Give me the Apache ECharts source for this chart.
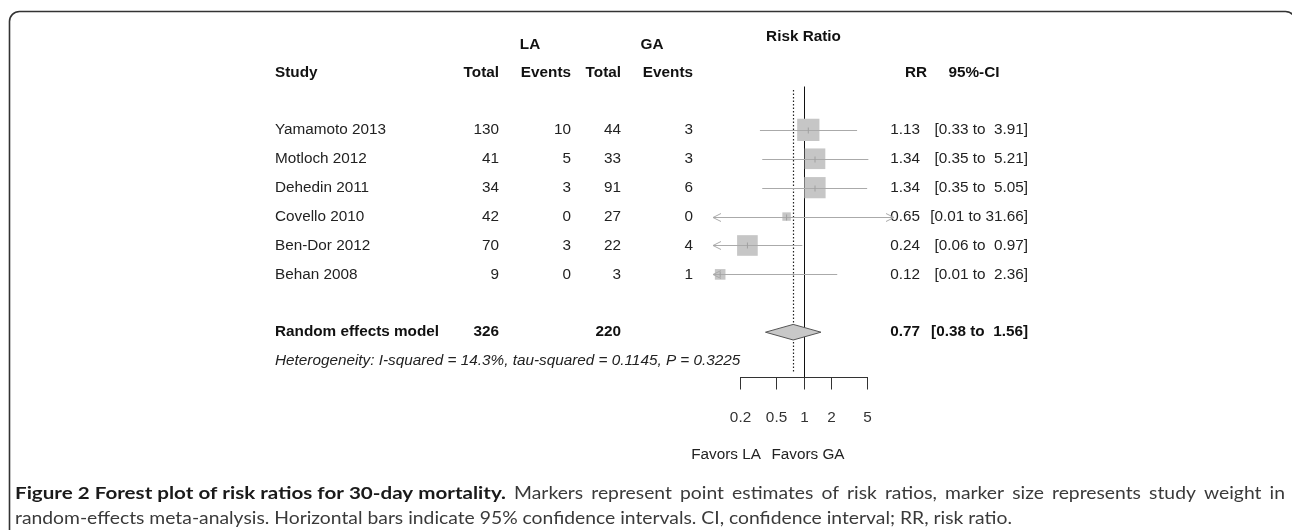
<!DOCTYPE html>
<html><head><meta charset="utf-8">
<script src="https://cdn.jsdelivr.net/npm/echarts@6/dist/echarts.min.js"></script>
<style>html,body{margin:0;padding:0;background:#fff}#c{width:1292px;height:530px}</style>
</head><body><div id="c"></div>
<script>
// ---------- data ----------
const studies  = ['Yamamoto 2013', 'Motloch 2012', 'Dehedin 2011', 'Covello 2010', 'Ben-Dor 2012', 'Behan 2008'];
const laTotal  = [130, 41, 34, 42, 70, 9];
const laEvents = [10, 5, 3, 0, 3, 0];
const gaTotal  = [44, 33, 91, 27, 22, 3];
const gaEvents = [3, 3, 6, 0, 4, 1];
const rr       = [1.13, 1.34, 1.34, 0.65, 0.24, 0.12];
const ciLow    = [0.33, 0.35, 0.35, 0.01, 0.06, 0.01];
const ciHigh   = [3.91, 5.21, 5.05, 31.66, 0.97, 2.36];
const weights  = [25.0, 21.5, 22.7, 3.6, 21.5, 5.7];
const pooledRR = [0.77, 0.38, 1.56];
const pooledTotals = [326, 220];
const hetText  = 'Heterogeneity: I-squared = 14.3%, tau-squared = 0.1145, P = 0.3225';
const ticks    = [0.2, 0.5, 1, 2, 5];
const xRange   = [0.1, 10];

// ---------- layout ----------
const FONT = '"Liberation Sans", Arial, Helvetica, sans-serif';
const FS = 15.3;
const X_STUDY = 275, X_LAT = 499, X_LAE = 571, X_GAT = 621, X_GAE = 693, X_RR = 920, X_CI = 1028;
const ROW_POOLED = 7, ROW_HET = 8, ROW_AXIS = 8.55, ROW_TOP = -1.5;
const TXT = '#222';

function pad(s, n) { while (s.length < n) s = ' ' + s; return s; }
function ciText(l, h) { return '[' + pad(l.toFixed(2), 4) + ' to ' + pad(h.toFixed(2), 5) + ']'; }
function txt(x, y, s, align, opt) {
  opt = opt || {};
  return { type: 'text', x: x, y: y, silent: true, style: Object.assign({
    text: String(s), fill: TXT, fontSize: FS, fontFamily: FONT,
    align: align, textAlign: align, verticalAlign: 'middle', textVerticalAlign: 'middle'
  }, opt) };
}
function line(x1, y1, x2, y2, stroke, lw, dash) {
  return { type: 'line', silent: true, shape: { x1: x1, y1: y1, x2: x2, y2: y2 },
    style: { stroke: stroke, lineWidth: lw || 1, lineDash: dash || null } };
}

const chart = echarts.init(document.getElementById('c'), null, { renderer: 'canvas' });

// ---------- caption (justified first line) ----------
const cap1b = 'Figure 2 Forest plot of risk ratios for 30-day mortality.';
const cap1r = 'Markers represent point estimates of risk ratios, marker size represents study weight in';
const cap2  = 'random-effects meta-analysis. Horizontal bars indicate 95% confidence intervals. CI, confidence interval; RR, risk ratio.';
const CAPFONT = 'Lato, "Open Sans", sans-serif';
const CAPFS = 17;
const cv = document.createElement('canvas').getContext('2d');
cv.font = CAPFS + 'px ' + CAPFONT;
const capSX = 997 / cv.measureText(cap2).width;
cv.font = 'bold ' + CAPFS + 'px ' + CAPFONT;
const boldSX = 491 / cv.measureText(cap1b).width;
const capEls = [];
function capWord(x, y, w, bold, sx) {
  capEls.push({ type: 'text', x: x, y: y, scaleX: sx, silent: true, style: {
    text: w, fontFamily: CAPFONT, fontSize: CAPFS, fontWeight: bold ? 'bold' : 'normal',
    fill: bold ? '#1a1a1a' : '#3a3a3a', align: 'left', textAlign: 'left',
    verticalAlign: 'middle', textVerticalAlign: 'middle' } });
}
capWord(15, 494, cap1b, true, boldSX);
const regWords = cap1r.split(' ');
cv.font = CAPFS + 'px ' + CAPFONT;
const regW = regWords.map(w => cv.measureText(w).width * capSX);
const regStart = 15 + 491;
const regGap = (1285 - regStart - regW.reduce((a, b) => a + b, 0)) / regWords.length;
let cx = regStart + regGap;
regWords.forEach((w, k) => { capWord(cx, 494, w, false, capSX); cx += regW[k] + regGap; });
capWord(15, 519, cap2, false, capSX);

const HB = { fontWeight: 'bold', fill: '#111' };
const option = {
  animation: false,
  grid: { left: 713, width: 181, top: 86.5, height: 290.5, containLabel: false },
  xAxis: { type: 'log', logBase: 10, min: xRange[0], max: xRange[1], show: false },
  yAxis: { type: 'value', min: ROW_TOP, max: ROW_AXIS, inverse: true, show: false },
  graphic: [
    { type: 'rect', silent: true, shape: { x: 9.5, y: 11.5, width: 1286, height: 700, r: 10 },
      style: { fill: 'none', stroke: '#333', lineWidth: 1.6 } },
    txt(803.5, 37, 'Risk Ratio', 'center', HB),
    txt(530, 45, 'LA', 'center', HB),
    txt(652, 45, 'GA', 'center', HB),
    txt(X_STUDY, 73, 'Study', 'left', HB),
    txt(X_LAT, 73, 'Total', 'right', HB),
    txt(X_LAE, 73, 'Events', 'right', HB),
    txt(X_GAT, 73, 'Total', 'right', HB),
    txt(X_GAE, 73, 'Events', 'right', HB),
    txt(927, 73, 'RR', 'right', HB),
    txt(974, 73, '95%-CI', 'center', HB),
    txt(726, 455, 'Favors LA', 'center'),
    txt(808, 455, 'Favors GA', 'center')
  ].concat(capEls),
  series: [
    // reference lines
    { type: 'custom', data: [[1, 0]], clip: false, z: 1,
      renderItem: function (p, api) {
        const x1 = Math.round(api.coord([1, 0])[0]) + 0.5;
        const xp = Math.round(api.coord([pooledRR[0], 0])[0]) + 0.5;
        return { type: 'group', children: [
          line(x1, api.coord([1, ROW_TOP])[1], x1, api.coord([1, ROW_AXIS])[1], '#111', 1),
          line(xp, api.coord([1, -1.38])[1], xp, api.coord([1, 8.38])[1], '#222', 1.2, [1.5, 2])
        ] };
      } },
    // studies
    { type: 'custom', clip: false, z: 2,
      data: studies.map((s, i) => [rr[i], i]),
      renderItem: function (p, api) {
        const i = p.dataIndex;
        const y = api.coord([1, i])[1];
        const yl = Math.round(y) + 0.5;
        const xr = api.coord([rr[i], i])[0];
        const lowC = Math.max(ciLow[i], xRange[0]), highC = Math.min(ciHigh[i], xRange[1]);
        const xl = api.coord([lowC, i])[0], xh = api.coord([highC, i])[0];
        const sz = 4.45 * Math.sqrt(weights[i]);
        const ch = [
          txt(X_STUDY, y, studies[i], 'left'),
          txt(X_LAT, y, laTotal[i], 'right'),
          txt(X_LAE, y, laEvents[i], 'right'),
          txt(X_GAT, y, gaTotal[i], 'right'),
          txt(X_GAE, y, gaEvents[i], 'right'),
          txt(X_RR, y, rr[i].toFixed(2), 'right'),
          txt(X_CI, y, ciText(ciLow[i], ciHigh[i]), 'right'),
          { type: 'rect', silent: true, shape: { x: xr - sz / 2, y: y - sz / 2, width: sz, height: sz },
            style: { fill: '#c6c6c6' } },
          line(xl, yl, xh, yl, '#aaaaaa', 1),
          line(xr, yl - 3, xr, yl + 3, '#a0a0a0', 1)
        ];
        if (ciLow[i] < xRange[0]) {
          ch.push({ type: 'polyline', silent: true, shape: { points: [[xl + 8, yl - 4], [xl, yl], [xl + 8, yl + 4]] },
            style: { stroke: '#aaaaaa', lineWidth: 1, fill: null } });
        }
        if (ciHigh[i] > xRange[1]) {
          ch.push({ type: 'polyline', silent: true, shape: { points: [[xh - 8, yl - 4], [xh, yl], [xh - 8, yl + 4]] },
            style: { stroke: '#aaaaaa', lineWidth: 1, fill: null } });
        }
        return { type: 'group', children: ch };
      } },
    // pooled
    { type: 'custom', clip: false, z: 3,
      data: [[pooledRR[0], ROW_POOLED]],
      renderItem: function (p, api) {
        const y = api.coord([1, ROW_POOLED])[1];
        const xm = api.coord([pooledRR[0], 0])[0];
        const xl = api.coord([pooledRR[1], 0])[0];
        const xh = api.coord([pooledRR[2], 0])[0];
        return { type: 'group', children: [
          { type: 'polygon', silent: true, shape: { points: [[xl, y], [xm, y - 7.8], [xh, y], [xm, y + 7.8]] },
            style: { fill: '#c8c8c8', stroke: '#555', lineWidth: 1 } },
          txt(X_STUDY, y, 'Random effects model', 'left', HB),
          txt(X_LAT, y, pooledTotals[0], 'right', HB),
          txt(X_GAT, y, pooledTotals[1], 'right', HB),
          txt(X_RR, y, pooledRR[0].toFixed(2), 'right', HB),
          txt(X_CI, y, ciText(pooledRR[1], pooledRR[2]), 'right', HB),
          txt(X_STUDY, api.coord([1, ROW_HET])[1], hetText, 'left', { fontStyle: 'italic' })
        ] };
      } },
    // x axis
    { type: 'custom', clip: false, z: 4,
      data: ticks.map(t => [t, ROW_AXIS]),
      renderItem: function (p, api) {
        const t = ticks[p.dataIndex];
        const y0 = Math.round(api.coord([1, ROW_AXIS])[1]) + 0.5;
        const x = Math.round(api.coord([t, ROW_AXIS])[0]) + 0.5;
        const ch = [
          line(x, y0, x, y0 + 12, '#333', 1),
          txt(x, y0 + 40, String(t), 'center', { fill: '#333' })
        ];
        if (p.dataIndex === 0) {
          const xa = api.coord([ticks[0], 0])[0], xb = api.coord([ticks[ticks.length - 1], 0])[0];
          ch.push(line(Math.round(xa), y0, Math.round(xb) + 1, y0, '#333', 1));
        }
        return { type: 'group', children: ch };
      } }
  ]
};
chart.setOption(option);
</script>
</body></html>
